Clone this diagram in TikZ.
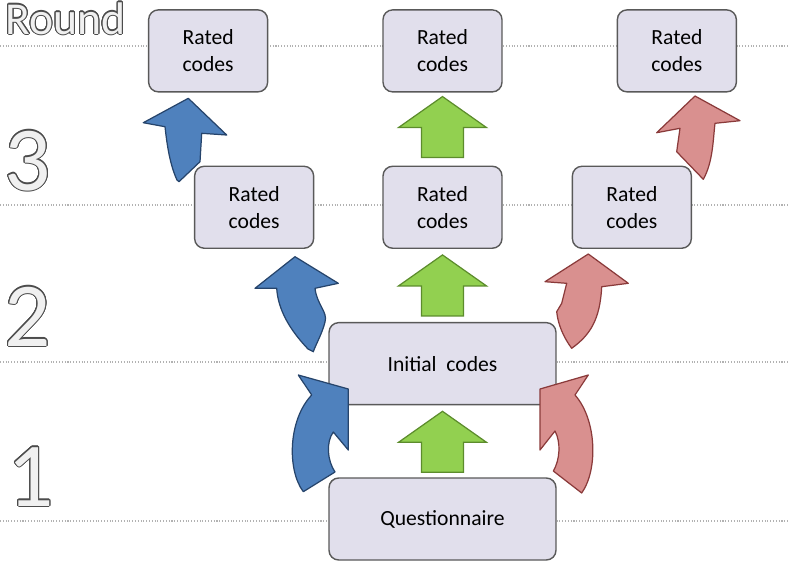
\documentclass[tikz,border=0pt]{standalone}
\usepackage{fontspec}
\setmainfont{Carlito}
\usepackage{contour}
\usetikzlibrary{positioning}

\definecolor{boxfill}{HTML}{E1DFEC}
\definecolor{arrowblue}{HTML}{4F81BD}
\definecolor{arrowblueline}{HTML}{26446B}
\definecolor{arrowred}{HTML}{D9908F}
\definecolor{arrowredline}{HTML}{8A3A3A}
\definecolor{arrowgreen}{HTML}{92D050}
\definecolor{arrowgreenline}{HTML}{5C8C2C}

\contourlength{0.6pt}
\newcommand{\outlined}[1]{\contour{black!70}{\textcolor{black!6}{#1}}}

\tikzset{
    greenup/.pic={
        \path[greenarrow] (-21,0) -- (-21,-30) -- (-44,-30) -- (0,-61) -- (44,-30) -- (21,-30) -- (21,0) -- cycle;
    },
}

\begin{document}
\begin{tikzpicture}[x=0.02cm, y=-0.02cm,
        codebox/.style={rectangle, rounded corners=5.5pt, draw=black!65, fill=boxfill, line width=0.8pt, minimum width=2.38cm, minimum height=1.64cm, inner sep=2pt, align=center, font=\fontsize{12.3}{15.5}\selectfont},
        widebox/.style={codebox, minimum width=4.54cm},
        guide/.style={densely dotted, draw=black!30, line width=0.6pt},
        roundlabel/.style={anchor=base west, inner sep=0pt},
        bluearrow/.style={fill=arrowblue, draw=arrowblueline, line width=0.7pt, line join=round},
        redarrow/.style={fill=arrowred, draw=arrowredline, line width=0.7pt, line join=round},
        greenarrow/.style={fill=arrowgreen, draw=arrowgreenline, line width=0.7pt, line join=miter},
    ]
    \useasboundingbox (0,0) rectangle (788,562);

    % round guides
    \foreach \y in {46,205,362,521}
        \draw[guide] (0,\y) -- (788,\y);

    \node[roundlabel, font=\fontsize{26}{30}\selectfont] (round) at (5,34)  {\outlined{Round}};
    \node[roundlabel, font=\fontsize{52}{56}\selectfont] (three) at (4,190) {\outlined{3}};
    \node[roundlabel, font=\fontsize{52}{56}\selectfont] (two)   at (4,346) {\outlined{2}};
    \node[roundlabel, font=\fontsize{52}{56}\selectfont] (one)   at (7,506) {\outlined{1}};

    % boxes
    \node[widebox] (quest) at (442.5,519)           {Questionnaire};
    \node[widebox] (init)  [above=1.44cm of quest] {Initial~~codes};
    \node[codebox] (midc)  [above=1.46cm of init]  {Rated\\codes};
    \node[codebox] (midl)  [left=1.36cm of midc]   {Rated\\codes};
    \node[codebox] (midr)  [right=1.38cm of midc]  {Rated\\codes};
    \node[codebox] (topc)  [above=1.46cm of midc]  {Rated\\codes};
    \node[codebox] (topl)  [left=2.28cm of topc]   {Rated\\codes};
    \node[codebox] (topr)  [right=2.28cm of topc]  {Rated\\codes};

    % straight arrows
    \pic at ([yshift=0.1cm]quest.north) {greenup};
    \pic at ([yshift=0.12cm]init.north) {greenup};
    \pic at ([yshift=0.16cm]midc.north) {greenup};

    % curved arrows, round 1
    \path[bluearrow] (298.3,375) -- (348.3,389) -- (348.3,450) -- (333.3,432)
        .. controls (326,442) and (327,460) .. (335,472) -- (303.3,491.7)
        .. controls (287,470) and (288,420) .. (311.7,395) -- cycle;
    \path[redarrow] (588.3,375) -- (540,389) -- (540,450) -- (555,431)
        .. controls (561,442) and (560,460) .. (553.3,471) -- (581.7,493)
        .. controls (598,470) and (597,420) .. (575,395) -- cycle;

    % curved arrows, round 2
    \path[bluearrow] (255,288.3) -- (295,256.7) -- (338.3,283.3) -- (315,288.3)
        .. controls (317,305) and (328,312) .. (325,322)
        .. controls (322,334) and (316,344) .. (313.3,351.7) -- (308,349)
        .. controls (290,330) and (278,310) .. (276.7,288.3) -- cycle;
    \path[redarrow] (628.3,283.3) -- (588.3,254) -- (545,281.7) -- (566.7,283.3)
        -- (561.7,303.3) -- (556.7,311.7)
        .. controls (558,325) and (564,338) .. (571.7,348.3)
        .. controls (590,335) and (600,320) .. (601.7,286.7) -- cycle;

    % curved arrows, round 3
    \path[bluearrow] (143.3,122.7) -- (188.3,98.3) -- (226.7,135) -- (201.7,133.3)
        -- (200,161.7) -- (179,181.7) -- (177,180)
        .. controls (170,165) and (167,145) .. (165,126.7) -- cycle;
    \path[redarrow] (656.7,132.7) -- (695,96) -- (740,120.7) -- (715,123.3)
        .. controls (713,140) and (713,162) .. (703.3,179.3)
        -- (676.7,151.7) -- (680,128.3) -- cycle;
\end{tikzpicture}
\end{document}
